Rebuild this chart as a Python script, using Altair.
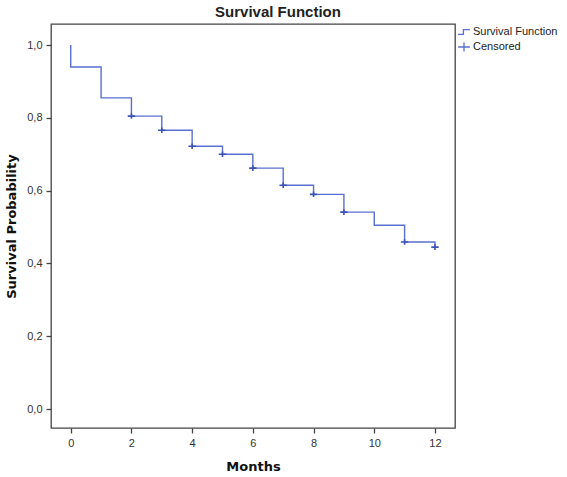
import altair as alt
import pandas as pd

# Kaplan-Meier step function (months, survival probability)
months = [0, 0, 1, 2, 3, 4, 5, 6, 7, 8, 9, 10, 11, 12]
survival = [1.0, 0.94, 0.855, 0.805, 0.766, 0.722, 0.700, 0.662, 0.615, 0.590, 0.541, 0.505, 0.459, 0.445]

# Censored observations
censor_months = [2, 3, 4, 5, 6, 7, 8, 9, 11, 12]
censor_surv = [0.805, 0.766, 0.722, 0.700, 0.662, 0.615, 0.590, 0.541, 0.459, 0.445]

legend_labels = ["Survival Function", "Censored"]

line_df = pd.DataFrame({"Months": months, "S": survival, "idx": list(range(len(months)))})
cens_df = pd.DataFrame({"Months": censor_months, "S": censor_surv, "series": "Censored"})

LINE_COLOR = "#5a6fcf"
CENS_COLOR = "#3a52b8"
STEP_PATH = "M-1,0.4L-0.1,0.4L-0.1,-0.4L1,-0.4"
PLUS_PATH = "M-1,0L1,0M0,-0.75L0,0.75"

x_scale = alt.Scale(domain=[-0.65, 12.66], nice=False, zero=False)
y_scale = alt.Scale(domain=[-0.052, 1.058], nice=False, zero=False)

x_axis = alt.Axis(values=[0, 2, 4, 6, 8, 10, 12], title="Months", grid=False)
y_axis = alt.Axis(values=[0, 0.2, 0.4, 0.6, 0.8, 1.0], title="Survival Probability", grid=False,
                  labelExpr="replace(format(datum.value, '.1f'), '.', ',')")

line = alt.Chart(line_df).mark_line(interpolate="step-after", color=LINE_COLOR, strokeWidth=1.4).encode(
    x=alt.X("Months:Q", scale=x_scale, axis=x_axis),
    y=alt.Y("S:Q", scale=y_scale, axis=y_axis),
    order="idx:Q",
)

cens = alt.Chart(cens_df).mark_point(filled=False, stroke=CENS_COLOR, strokeWidth=1.6, opacity=1).encode(
    x=alt.X("Months:Q", scale=x_scale),
    y=alt.Y("S:Q", scale=y_scale),
    shape=alt.Shape(
        "series:N",
        scale=alt.Scale(domain=legend_labels, range=[STEP_PATH, PLUS_PATH]),
        legend=alt.Legend(
            title=None, orient="none", legendX=406, legendY=1,
            symbolStrokeColor=LINE_COLOR, symbolFillColor="transparent",
            symbolSize=140, symbolStrokeWidth=1.3,
            labelFont="Liberation Sans", labelFontSize=11, labelColor="#222",
            labelOffset=2, rowPadding=2, padding=0,
        ),
    ),
)

chart = (
    alt.layer(line, cens)
    .properties(
        width=404, height=404,
        autosize=alt.AutoSizeParams(type="none"),
        padding={"left": 51, "top": 24, "right": 112, "bottom": 49},
        title=alt.TitleParams("Survival Function", font="Liberation Sans", fontSize=15,
                              fontWeight="bold", color="#222", offset=4, dx=25),
    )
    .configure_point(size=55)
    .configure_view(stroke="#444", strokeWidth=1.3)
    .configure_axis(
        domain=False, tickColor="#444", tickSize=5, tickWidth=1.3,
        labelFont="Liberation Sans", labelFontSize=11, labelColor="#333", labelPadding=4,
        titleFont="DejaVu Sans", titleFontSize=13, titleFontWeight="bold", titleColor="#111",
    )
    .configure_axisX(titlePadding=12)
    .configure_axisY(titlePadding=8)
)

chart.save("out.html", embed_options={"renderer": "svg", "actions": False})
